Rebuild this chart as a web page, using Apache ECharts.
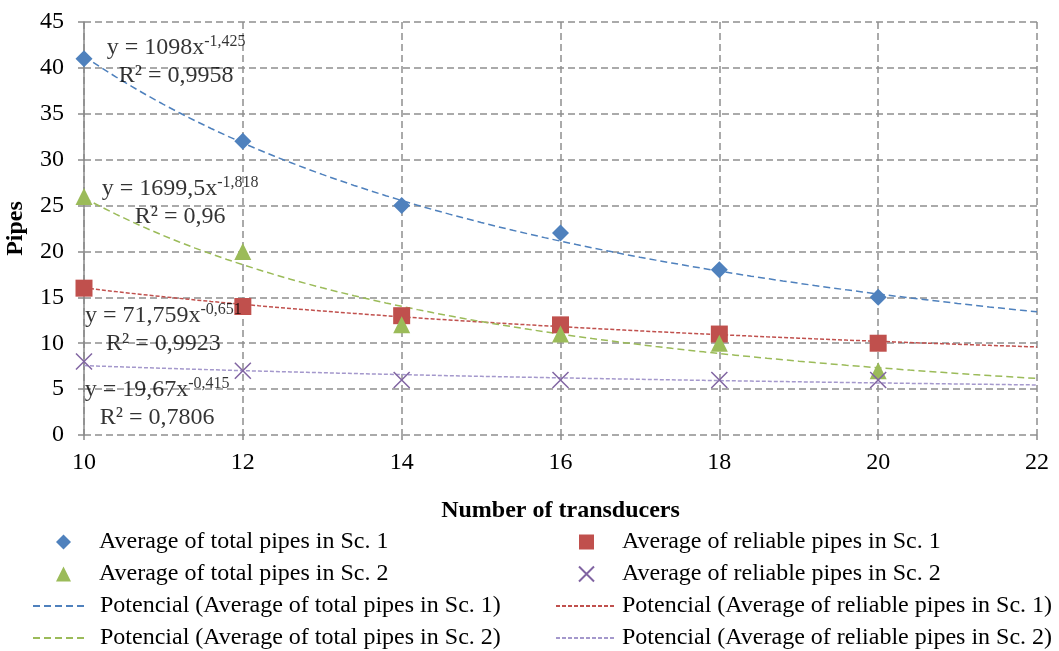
<!DOCTYPE html>
<html>
<head>
<meta charset="utf-8">
<script src="https://cdn.jsdelivr.net/npm/echarts@6/dist/echarts.min.js"></script>
<style>
  html, body { margin: 0; padding: 0; background: #ffffff; }
  #chart { width: 1059px; height: 651px; }
</style>
</head>
<body>
<div id="chart"></div>
<script>
// Number of transducers (x values of the measured points)
const transducers = [10, 12, 14, 16, 18, 20];

// Measured averages
const totalSc1 = [41, 32, 25, 22, 18, 15];
const reliableSc1 = [16, 14, 13, 12, 11, 10];
const totalSc2 = [26, 20, 12, 11, 10, 7];
const reliableSc2 = [8, 7, 6, 6, 6, 6];

// Power-law fits y = a * x^b, with their R² values
const fitTotalSc1 = [1098, -1.425, 0.9958];
const fitReliableSc1 = [71.759, -0.651, 0.9923];
const fitTotalSc2 = [1699.5, -1.818, 0.96];
const fitReliableSc2 = [19.67, -0.415, 0.7806];

// Series names
const names = [
  'Average of total pipes in Sc. 1',
  'Average of reliable pipes in Sc. 1',
  'Average of total pipes in Sc. 2',
  'Average of reliable pipes in Sc. 2'
];
const trendNames = names.map(n => 'Potencial (' + n + ')');

const FONT = "'Liberation Serif', 'Times New Roman', serif";
const COLORS = { blue: '#4F81BD', red: '#C0504D', green: '#9BBB59', purple: '#8064A2', lavender: '#A498CC' };

const X_MIN = 10, X_MAX = 22;

// Sample a fitted curve across the axis range
function trendPoints(fit) {
  const pts = [];
  for (let x = X_MIN; x <= X_MAX + 1e-9; x += 0.2) {
    pts.push([x, fit[0] * Math.pow(x, fit[1])]);
  }
  return pts;
}

function pair(ys) { return transducers.map((x, i) => [x, ys[i]]); }

function dec(n) { return String(n).replace('.', ','); }

function eqLabel(fit) {
  return '{b|y = ' + dec(fit[0]) + 'x}{s|' + dec(fit[1]) + '}\n{b|R² = ' + dec(fit[2]) + '}';
}

const richStyle = {
  b: { fontFamily: FONT, fontSize: 24, lineHeight: 28, color: '#000' },
  s: { fontFamily: FONT, fontSize: 16, lineHeight: 14, verticalAlign: 'top', color: '#000' }
};

// Equation annotation anchored in data space
function equationSeries(fit, at) {
  return {
    type: 'scatter',
    silent: true,
    symbolSize: 0,
    z: 5,
    data: [at],
    label: {
      show: true,
      position: 'inside',
      align: 'center',
      verticalAlign: 'middle',
      formatter: () => eqLabel(fit),
      rich: richStyle
    }
  };
}

function trendSeries(name, fit, color, dash) {
  return {
    name: name,
    type: 'line',
    data: trendPoints(fit),
    symbol: 'none',
    showSymbol: false,
    smooth: false,
    silent: true,
    z: 2,
    lineStyle: { color: color, width: 1.5, type: dash },
    itemStyle: { color: color }
  };
}

function markerSeries(name, ys, symbol, size, itemStyle) {
  return {
    name: name,
    type: 'scatter',
    data: pair(ys),
    symbol: symbol,
    symbolSize: size,
    z: 4,
    itemStyle: Object.assign({ opacity: 1 }, itemStyle)
  };
}

const chart = echarts.init(document.getElementById('chart'), null, { renderer: 'canvas' });

function legendText(padLeft) {
  return { fontFamily: FONT, fontSize: 24, color: '#000', padding: [0, 0, 0, padLeft] };
}

// Marker rows of the legend (square icons)
function markerLegend(left, items) {
  return {
    orient: 'vertical', left: left, top: 530,
    itemWidth: 15, itemHeight: 15, itemGap: 8, padding: 0,
    selectedMode: false,
    textStyle: legendText(23),
    data: items
  };
}

// Trend-line rows of the legend (dashed strokes, no symbol)
function lineLegend(left, width, pad, items) {
  return {
    orient: 'vertical', left: left, top: 594,
    itemWidth: width, itemHeight: 14, itemGap: 8, padding: 0,
    selectedMode: false,
    itemStyle: { opacity: 0 },
    textStyle: legendText(pad),
    data: items
  };
}

chart.setOption({
  animation: false,
  backgroundColor: '#ffffff',
  grid: { left: 84, right: 22, top: 22, bottom: 216, containLabel: false, outerBoundsMode: 'none' },
  xAxis: {
    type: 'value',
    min: X_MIN,
    max: X_MAX,
    interval: 2,
    name: 'Number of transducers',
    nameLocation: 'middle',
    nameGap: 64,
    nameTextStyle: { fontFamily: FONT, fontSize: 24, fontWeight: 'bold', color: '#000' },
    axisLine: { show: false },
    axisTick: { show: true, length: 5, lineStyle: { color: '#8a8a8a', width: 1.5 } },
    axisLabel: { fontFamily: FONT, fontSize: 24, color: '#000', margin: 16 },
    splitLine: { show: true, lineStyle: { color: '#8f8f8f', width: 1.5, type: [7, 4] } }
  },
  yAxis: {
    type: 'value',
    min: 0,
    max: 45,
    interval: 5,
    name: 'Pipes',
    nameLocation: 'middle',
    nameGap: 56,
    nameTextStyle: { fontFamily: FONT, fontSize: 24, fontWeight: 'bold', color: '#000' },
    axisLine: { show: true, lineStyle: { color: '#8a8a8a', width: 1.5 } },
    axisTick: { show: true, length: 6, lineStyle: { color: '#8a8a8a', width: 1.5 } },
    axisLabel: { fontFamily: FONT, fontSize: 24, color: '#000', margin: 20 },
    splitLine: { show: true, lineStyle: { color: '#8f8f8f', width: 1.5, type: [7, 4] } }
  },
  legend: [
    markerLegend(56, [names[0], names[2]]),
    markerLegend(578, [names[1], names[3]]),
    lineLegend(32, 55, 7, [trendNames[0], trendNames[2]]),
    lineLegend(555, 58, 3, [trendNames[1], trendNames[3]])
  ],
  series: [
    trendSeries(trendNames[0], fitTotalSc1, COLORS.blue, [7, 4]),
    trendSeries(trendNames[1], fitReliableSc1, COLORS.red, [4, 2]),
    trendSeries(trendNames[2], fitTotalSc2, COLORS.green, [7, 4]),
    trendSeries(trendNames[3], fitReliableSc2, COLORS.lavender, [4, 2]),
    markerSeries(names[0], totalSc1, 'diamond', 17, { color: COLORS.blue }),
    markerSeries(names[1], reliableSc1, 'rect', 17, { color: COLORS.red }),
    markerSeries(names[2], totalSc2, 'triangle', 17, { color: COLORS.green }),
    markerSeries(names[3], reliableSc2, 'path://M0,0L10,10M10,0L0,10', 16,
      { color: 'rgba(0,0,0,0)', borderColor: COLORS.purple, borderWidth: 1.5 }),
    equationSeries(fitTotalSc1, [11.16, 40.64]),
    equationSeries(fitTotalSc2, [11.21, 25.3]),
    equationSeries(fitReliableSc1, [11.0, 11.45]),
    equationSeries(fitReliableSc2, [10.92, 3.4])
  ]
});
</script>
</body>
</html>
